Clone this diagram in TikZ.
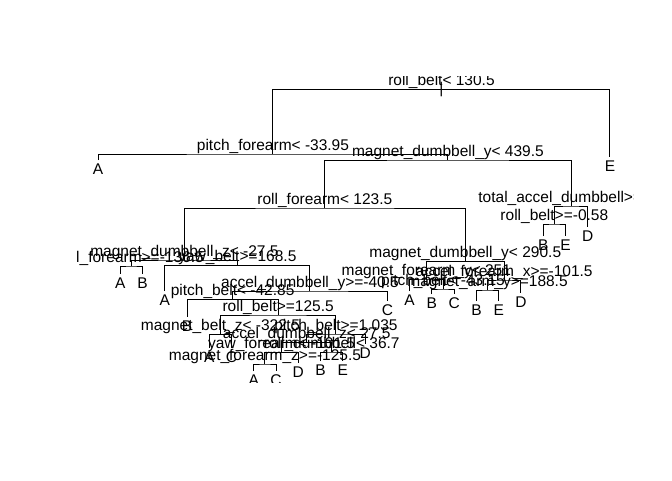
\documentclass[tikz,border=0pt]{standalone}
\usepackage{fontspec}
\setmainfont{Liberation Sans}
\newcommand{\lab}{\fontsize{15.5}{18}\selectfont}
\newcommand{\SpN}[4]{\coordinate (#1) at (#2,#3); \node[splitlab] (#1t) at (#2,#3-3.8) {#4};}
\newcommand{\LfN}[4]{\coordinate (#1) at (#2,#3); \node[leaflab] (#1t) at (#2,#3+14.8) {#4};}
\begin{document}
\begin{tikzpicture}[x=1pt,y=-1pt,
  splitlab/.style={anchor=base,inner sep=0pt,font=\lab},
  leaflab/.style={anchor=base,inner sep=0pt,font=\lab},
  br/.style={draw=black,line width=1pt}]
\useasboundingbox[fill=white] (0,0) rectangle (672,480);
\begin{scope}
\clip (77,76) rectangle (633.5,382);
% split nodes
\SpN{n1}{441.47}{89.3}{roll\_belt< 130.5}
\SpN{n2}{272.97}{154}{pitch\_forearm< -33.95}
\SpN{n5}{447.94}{160}{magnet\_dumbbell\_y< 439.5}
\SpN{n10}{324.84}{208}{roll\_forearm< 123.5}
\SpN{n11}{571.03}{206}{total\_accel\_dumbbell>=5.5}
\SpN{n22}{554.33}{224}{roll\_belt>=-0.58}
\SpN{n20}{184.39}{260}{magnet\_dumbbell\_z< -27.5}
\SpN{n40}{131.39}{266}{roll\_forearm>=-136.5}
\SpN{n41}{237.39}{265.5}{yaw\_belt>=168.5}
\SpN{n83}{309.99}{291}{accel\_dumbbell\_y>=-40.5}
\SpN{n166}{232.6}{299.3}{pitch\_belt< -42.85}
\SpN{n333}{278.17}{315}{roll\_belt>=125.5}
\SpN{nmbz}{220.43}{334.5}{magnet\_belt\_z< -322.5}
\SpN{npbb}{335.9}{334}{pitch\_belt>=1.035}
\SpN{nadz}{306.69}{342.3}{accel\_dumbbell\_z< 27.5}
\SpN{nyf}{281.65}{352.3}{yaw\_forearm< -101.5}
\SpN{nmfz}{264.95}{364}{magnet\_forearm\_z>=-125.5}
\SpN{nrd}{331.73}{352}{roll\_dumbbell< 36.7}
\SpN{nmdyb}{465.3}{261.5}{magnet\_dumbbell\_y< 290.5}
\SpN{nmfy}{426.34}{279}{magnet\_forearm\_y< 251}
\SpN{npby}{443.03}{289}{pitch\_belt< -43.15}
\SpN{nafx}{504.25}{280}{accel\_forearm\_x>=-101.5}
\SpN{nmay}{487.55}{290}{magnet\_arm\_y>=188.5}
% leaves
\LfN{l1}{98}{160}{A}
\LfN{l2}{120.26}{273.5}{A}
\LfN{l3}{142.52}{273.5}{B}
\LfN{l4}{164.78}{291}{A}
\LfN{l5}{187.04}{316.5}{B}
\LfN{l6}{209.3}{348}{A}
\LfN{l7}{231.56}{348}{C}
\LfN{l8}{253.82}{371}{A}
\LfN{l9}{276.08}{371}{C}
\LfN{l10}{298.34}{363}{D}
\LfN{l11}{320.6}{361}{B}
\LfN{l12}{342.86}{361}{E}
\LfN{l13}{365.12}{344}{D}
\LfN{l14}{387.38}{300.7}{C}
\LfN{l15}{409.64}{291}{A}
\LfN{l16}{431.9}{294}{B}
\LfN{l17}{454.16}{294}{C}
\LfN{l18}{476.42}{301}{B}
\LfN{l19}{498.68}{301}{E}
\LfN{l20}{520.94}{293}{D}
\LfN{l21}{543.2}{236}{B}
\LfN{l22}{565.46}{236}{E}
\LfN{l23}{587.72}{227}{D}
\LfN{l24}{609.98}{157}{E}
\node[inner sep=0pt,font=\lab] (tick) at (n1) {|};
% branches
\draw[br] (n2) |- (n1) -| (l24);
\draw[br] (l1) |- (n2) -| (n5);
\draw[br] (n10) |- (n5) -| (n11);
\draw[br] (n20) |- (n10) -| (nmdyb);
\draw[br] (n22) |- (n11) -| (l23);
\draw[br] (l21) |- (n22) -| (l22);
\draw[br] (n40) |- (n20) -| (n41);
\draw[br] (l2) |- (n40) -| (l3);
\draw[br] (l4) |- (n41) -| (n83);
\draw[br] (n166) |- (n83) -| (l14);
\draw[br] (l5) |- (n166) -| (n333);
\draw[br] (nmbz) |- (n333) -| (npbb);
\draw[br] (l6) |- (nmbz) -| (l7);
\draw[br] (nadz) |- (npbb) -| (l13);
\draw[br] (nyf) |- (nadz) -| (nrd);
\draw[br] (nmfz) |- (nyf) -| (l10);
\draw[br] (l8) |- (nmfz) -| (l9);
\draw[br] (l11) |- (nrd) -| (l12);
\draw[br] (nmfy) |- (nmdyb) -| (nafx);
\draw[br] (l15) |- (nmfy) -| (npby);
\draw[br] (l16) |- (npby) -| (l17);
\draw[br] (nmay) |- (nafx) -| (l20);
\draw[br] (l18) |- (nmay) -| (l19);
\end{scope}
\end{tikzpicture}
\end{document}
